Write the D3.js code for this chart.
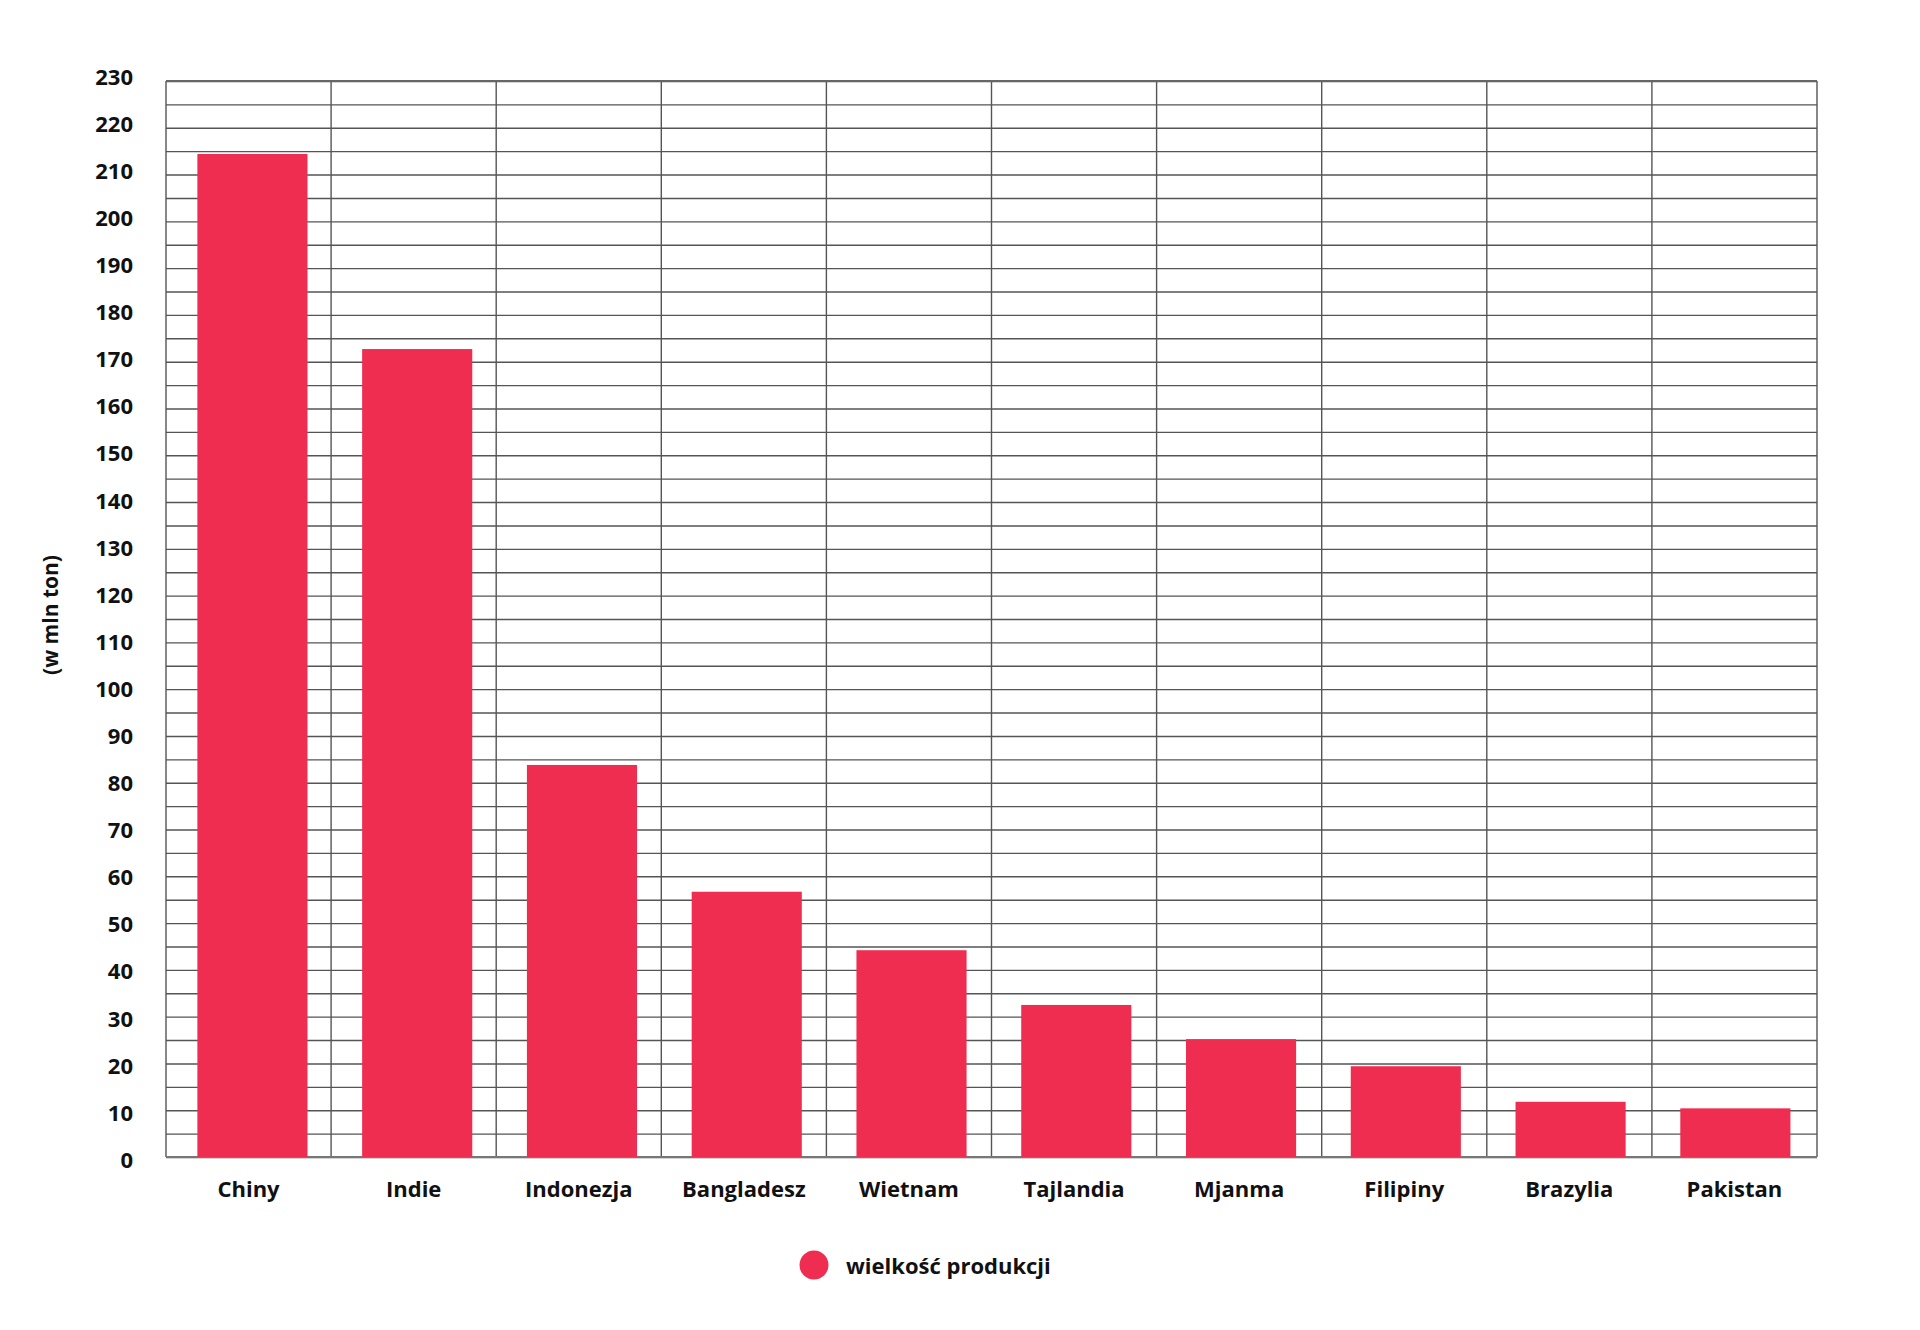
<!DOCTYPE html>
<html>
<head>
<meta charset="utf-8">
<script src="https://cdn.jsdelivr.net/npm/d3@7"></script>
<style>
  body { margin: 0; background: #fff; }
  text { font-family: "Open Sans", "Noto Sans", sans-serif; font-weight: 700; fill: #111; }
</style>
</head>
<body>
<div id="chart"></div>
<script>
// data
var categories = ["Chiny", "Indie", "Indonezja", "Bangladesz", "Wietnam",
                  "Tajlandia", "Mjanma", "Filipiny", "Brazylia", "Pakistan"];
var production = [214.4, 172.7, 83.8, 56.7, 44.2, 32.5, 25.2, 19.4, 11.8, 10.4];
var yTicks = d3.range(0, 231, 10);
var yGrid = d3.range(0, 231, 5);
var seriesName = "wielkość produkcji";
var yTitle = "(w mln ton)";

(function () {
  var width = 1920, height = 1330;
  var left = 166, right = 1817, top = 81, bottom = 1157;
  var barColor = "#ef2d50", gridColor = "#555";

  var svg = d3.select("#chart").append("svg")
    .attr("width", width)
    .attr("height", height);

  var x = d3.scaleBand().domain(categories).range([left, right]).padding(0);
  var y = d3.scaleLinear().domain([0, 230]).range([bottom, top]);
  // the labels in the original sit a touch wider apart than the grid
  var yLab = d3.scaleLinear().domain([0, 230]).range([bottom + 3, top - 4]);

  // horizontal grid
  svg.append("g")
    .attr("transform", "translate(" + left + ",0)")
    .call(d3.axisLeft(y).tickValues(yGrid).tickSize(-(right - left)).tickFormat(""))
    .call(function (g) {
      g.select(".domain").remove();
      g.selectAll(".tick line").attr("stroke", gridColor).attr("stroke-width", 1.4);
    });

  // vertical grid at band edges
  var edges = categories.map(function (c) { return x(c); }).concat([right]);
  svg.append("g").selectAll("line")
    .data(edges)
    .enter().append("line")
    .attr("x1", function (d) { return d; })
    .attr("x2", function (d) { return d; })
    .attr("y1", top)
    .attr("y2", bottom)
    .attr("stroke", gridColor)
    .attr("stroke-width", 1.4);

  // frame top a bit heavier
  svg.append("line")
    .attr("x1", left).attr("x2", right)
    .attr("y1", top).attr("y2", top)
    .attr("stroke", "#666").attr("stroke-width", 2.2);
  svg.append("line")
    .attr("x1", left).attr("x2", right)
    .attr("y1", bottom).attr("y2", bottom)
    .attr("stroke", "#777").attr("stroke-width", 2);

  // bars
  var bw = x.bandwidth();
  svg.append("g").selectAll("rect")
    .data(categories)
    .enter().append("rect")
    .attr("x", function (d, i) { return x(d) + bw * (0.19 - i * 0.002); })
    .attr("width", bw * 0.667)
    .attr("y", function (d, i) { return y(production[i]); })
    .attr("height", function (d, i) { return bottom - y(production[i]); })
    .attr("fill", barColor);

  // y labels
  svg.append("g")
    .attr("transform", "translate(133,0)")
    .call(d3.axisLeft(yLab).tickValues(yTicks).tickSize(0).tickPadding(0))
    .call(function (g) {
      g.select(".domain").remove();
      g.selectAll("text")
        .attr("font-size", 22)
        .attr("font-family", null)
        .attr("fill", "#111")
        .attr("dy", "0.33em");
    });

  // x labels
  svg.append("g")
    .attr("transform", "translate(0," + bottom + ")")
    .call(d3.axisBottom(x).tickSize(0).tickPadding(0))
    .call(function (g) {
      g.select(".domain").remove();
      g.selectAll("text")
        .attr("font-size", 22)
        .attr("font-family", null)
        .attr("fill", "#111")
        .attr("dy", null)
        .attr("y", 40);
    });

  // y title
  svg.append("text")
    .attr("transform", "translate(50,615) rotate(-90)")
    .attr("text-anchor", "middle")
    .attr("dominant-baseline", "central")
    .attr("font-size", 21)
    .text(yTitle);

  // legend
  var legend = svg.append("g").attr("transform", "translate(814,1265)");
  legend.append("circle").attr("r", 14.5).attr("fill", barColor);
  legend.append("text")
    .attr("x", 32)
    .attr("dominant-baseline", "central")
    .attr("font-size", 22)
    .text(seriesName);
}());
</script>
</body>
</html>
